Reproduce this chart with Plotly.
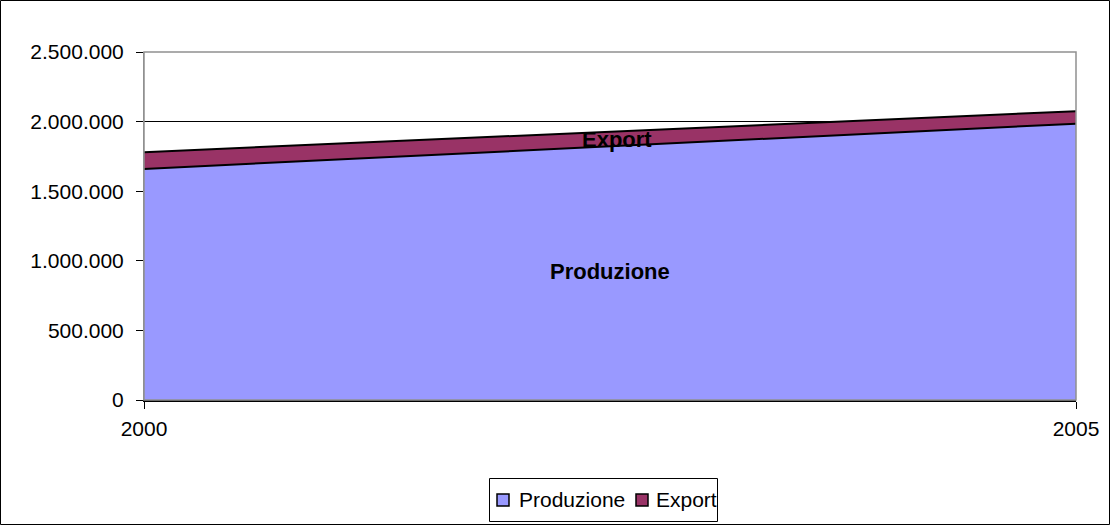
import plotly.graph_objects as go

years = [2000, 2005]
produzione = [1660000, 1985000]
export = [120000, 90000]
series_names = ["Produzione", "Export"]
colors = ["#9999FF", "#993366"]

W, H = 1110, 525
L, R, T, B = 144, 34, 52, 125
pw, ph = W - L - R, H - T - B

def px_x(x):
    return (x - L) / pw

def px_y(y):
    return (H - B - y) / ph

fig = go.Figure()
for name, vals, col in zip(series_names, [produzione, export], colors):
    fig.add_trace(go.Scatter(
        x=years, y=vals, name=name, stackgroup="one", mode="lines",
        line=dict(color="black", width=2), fillcolor=col, showlegend=False,
        hoverinfo="x+y"))

fig.add_annotation(x=2002.54, y=1875000, text="<b>Export</b>", showarrow=False,
                   font=dict(size=22, color="black"))
fig.add_annotation(x=2002.5, y=920000, text="<b>Produzione</b>", showarrow=False,
                   font=dict(size=22, color="black"))

# plot area border
fig.add_shape(type="rect", xref="paper", yref="paper", x0=0, x1=1, y0=0, y1=1,
              line=dict(color="#909090", width=1.5), layer="above")
# outer chart border
fig.add_shape(type="rect", xref="paper", yref="paper",
              x0=px_x(0.5), x1=px_x(W - 0.5), y0=px_y(H - 0.5), y1=px_y(0.5),
              line=dict(color="black", width=1))

# manual legend (box, swatches, labels)
fig.add_shape(type="rect", xref="paper", yref="paper",
              x0=px_x(489.5), x1=px_x(717.5), y0=px_y(521.5), y1=px_y(478.5),
              line=dict(color="black", width=1), fillcolor="white")
for (sx0, sx1), col in zip([(497, 509), (636, 648)], colors):
    fig.add_shape(type="rect", xref="paper", yref="paper",
                  x0=px_x(sx0), x1=px_x(sx1), y0=px_y(506), y1=px_y(494),
                  line=dict(color="black", width=1.5), fillcolor=col)
for tx, name in zip([517, 654], series_names):
    fig.add_annotation(xref="paper", yref="paper", x=px_x(tx), y=px_y(499),
                       xanchor="left", yanchor="middle", text=name, showarrow=False,
                       font=dict(size=21, color="black"))

fig.update_layout(
    width=W, height=H,
    margin=dict(l=L, r=R, t=T, b=B, pad=0),
    paper_bgcolor="white", plot_bgcolor="white",
    separators=",.",
    font=dict(family="Liberation Sans, Arial, sans-serif", size=21, color="black"),
    showlegend=False,
    xaxis=dict(range=[2000, 2005], tickvals=years, ticktext=[str(y) for y in years],
               showgrid=False, zeroline=False, showline=True, linecolor="black", linewidth=2,
               ticks="outside", ticklen=7, tickcolor="black", ticklabelstandoff=2),
    yaxis=dict(range=[0, 2500000], dtick=500000, tickformat=",d",
               showgrid=True, gridcolor="black", gridwidth=1, zeroline=False,
               showline=True, linecolor="#909090", ticks="outside", ticklen=7,
               tickcolor="black", ticklabelstandoff=8),
)

fig.write_html("out.html", config={"displayModeBar": False},
               post_script="document.body.style.margin='0';document.body.style.padding='0';")
